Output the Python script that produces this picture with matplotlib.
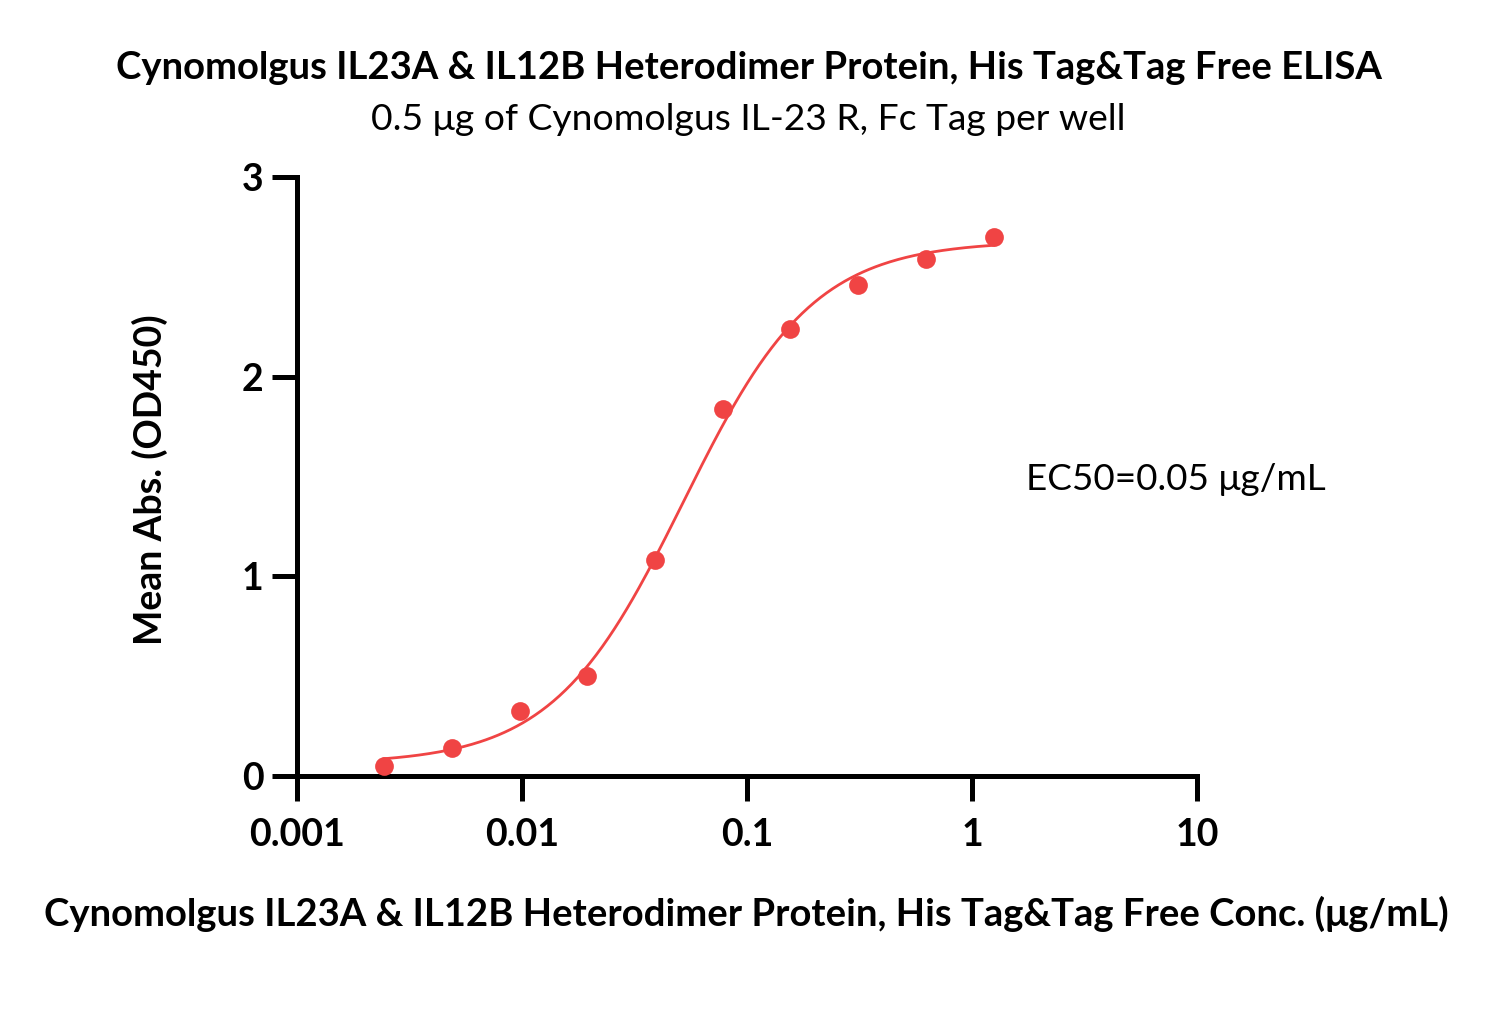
import numpy as np
import matplotlib
matplotlib.use("Agg")
import matplotlib.pyplot as plt
from matplotlib.ticker import FixedLocator, NullLocator

plt.rcParams['font.family'] = ['Lato', 'DejaVu Sans']

# Data
conc = [0.00244, 0.00488, 0.00977, 0.0195, 0.039, 0.078, 0.156, 0.3125, 0.625, 1.25]
absorb = [0.05, 0.14, 0.325, 0.50, 1.08, 1.84, 2.24, 2.46, 2.59, 2.70]

# 4PL fit parameters (estimated)
fit_bottom = 0.06
fit_top = 2.68
fit_ec50 = 0.052
fit_hill = 1.5

xticks = [0.001, 0.01, 0.1, 1, 10]
xticklabels = ["0.001", "0.01", "0.1", "1", "10"]
yticks = [0, 1, 2, 3]

title = "Cynomolgus IL23A & IL12B Heterodimer Protein, His Tag&Tag Free ELISA"
subtitle = "0.5 \u03bcg of Cynomolgus IL-23 R, Fc Tag per well"
xlabel = "Cynomolgus IL23A & IL12B Heterodimer Protein, His Tag&Tag Free Conc. (\u03bcg/mL)"
ylabel = "Mean Abs. (OD450)"
annot = "EC50=0.05 \u03bcg/mL"

color = "#F04444"

fig = plt.figure(figsize=(14.97, 10.32), dpi=100)
ax = fig.add_axes([0.1984, 0.2481, 0.6012, 0.5804])

xf = np.logspace(np.log10(conc[0]), np.log10(conc[-1]), 300)
yf = fit_bottom + (fit_top - fit_bottom) / (1 + (fit_ec50 / xf) ** fit_hill)
ax.plot(xf, yf, color=color, lw=2.0, zorder=2)
ax.plot(conc, absorb, 'o', color=color, ms=13.5, mec='none', zorder=3, clip_on=False)

ax.set_xscale('log')
ax.set_xlim(0.001, 10)
ax.set_ylim(0, 3)
ax.xaxis.set_major_locator(FixedLocator(xticks))
ax.xaxis.set_minor_locator(NullLocator())
ax.set_xticklabels(xticklabels)
ax.set_yticks(yticks)

for s in ['top', 'right']:
    ax.spines[s].set_visible(False)
for s in ['left', 'bottom']:
    ax.spines[s].set_linewidth(3.6)
ax.tick_params(axis='both', which='major', length=18, width=3.6, labelsize=27, pad=6)
for lab in ax.get_xticklabels() + ax.get_yticklabels():
    lab.set_fontweight('bold')
ax.tick_params(axis='x', pad=12)

fig.text(0.5, 0.934, title, ha='center', va='center', fontsize=27.5, fontweight='bold')
fig.text(0.5, 0.884, subtitle, ha='center', va='center', fontsize=26.8)
fig.text(0.4987, 0.114, xlabel, ha='center', va='center', fontsize=27.5, fontweight='bold')
fig.text(0.1, 0.535, ylabel, ha='center', va='center', fontsize=27, fontweight='bold', rotation=90)
fig.text(0.7856, 0.535, annot, ha='center', va='center', fontsize=26.6)

fig.savefig("out.png", dpi=100, facecolor='white')
